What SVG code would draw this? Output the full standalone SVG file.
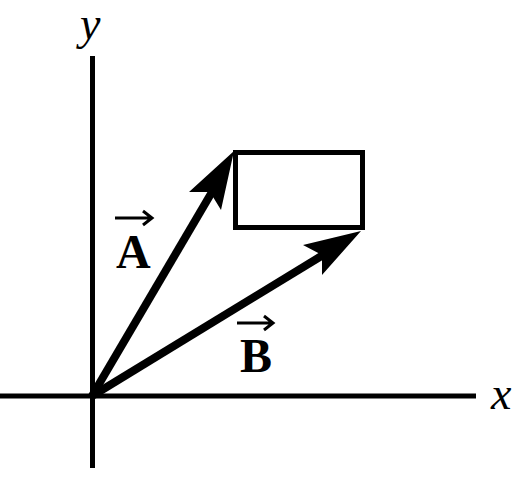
<svg xmlns="http://www.w3.org/2000/svg" width="528" height="477" viewBox="0 0 528 477">
<style>
.ax{stroke:#000;stroke-width:5;fill:none}
.shaft{stroke:#000;stroke-width:8;fill:none}
.head{fill:#000;stroke:none}
.vec{stroke:#000;stroke-width:3;fill:none}
.it{font-family:"Liberation Serif",serif;font-style:italic;font-size:46px;fill:#000}
.bd{font-family:"Liberation Serif",serif;font-weight:bold;font-size:48px;fill:#000}
</style>
<rect width="528" height="477" fill="#fff"/>
<g id="axes">
<line class="ax" x1="92.5" y1="56" x2="92.5" y2="468"/>
<line class="ax" x1="0" y1="396" x2="476" y2="396"/>
<text class="it" x="80" y="39">y</text>
<text class="it" x="491" y="409">x</text>
</g>
<g id="box">
<rect x="235.5" y="152.5" width="127" height="75" fill="#fff" stroke="#000" stroke-width="5"/>
</g>
<g id="connectors">
<line class="shaft" x1="92" y1="396" x2="212" y2="192"/>
<polygon class="head" points="234,151 221,210 210,192 189,192"/>
<line class="shaft" x1="92" y1="396" x2="323" y2="255"/>
<polygon class="head" points="361,231 303,245 322,255 322,275"/>
</g>
<g id="labelA">
<path class="vec" d="M115,218 H151 M143,211 L152,218 L143,225"/>
<text class="bd" x="116" y="268">A</text>
</g>
<g id="labelB">
<path class="vec" d="M237,323 H272 M264,316 L273,323 L264,330"/>
<text class="bd" x="240" y="372">B</text>
</g>
</svg>
